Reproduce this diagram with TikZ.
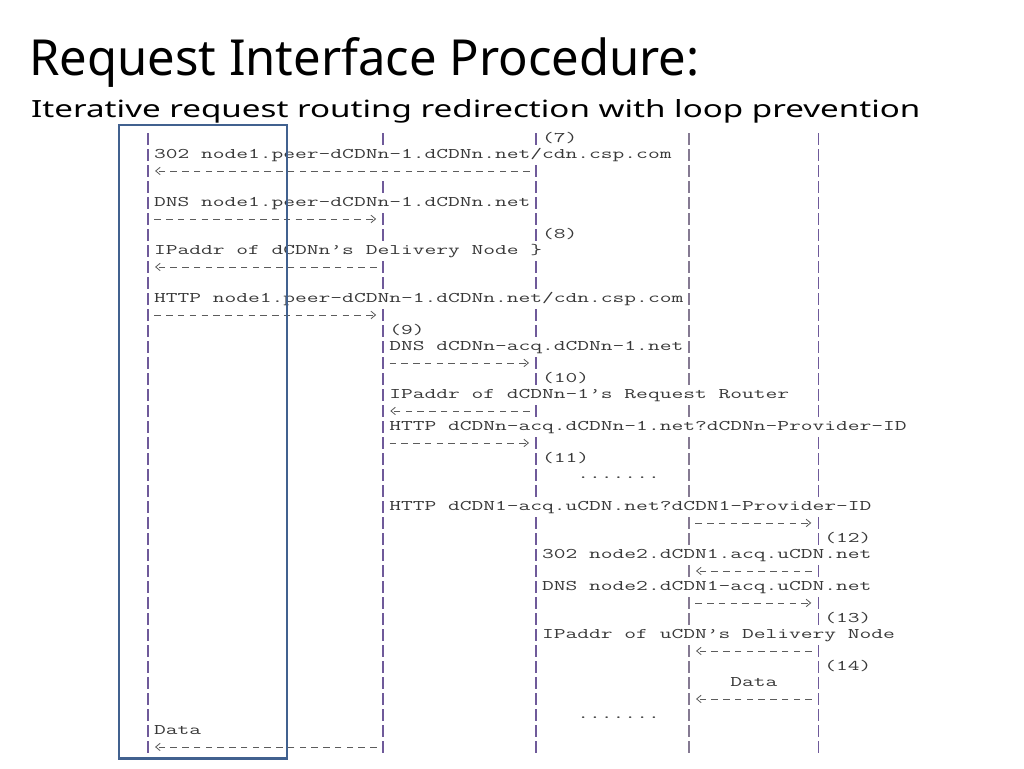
\documentclass[tikz,border=0pt]{standalone}
\usepackage{fontspec}
\setmainfont{Noto Sans}
\usetikzlibrary{arrows.meta}
\definecolor{lifeA}{HTML}{6F5A9A}
\definecolor{lifeB}{HTML}{857A92}
\definecolor{boxblue}{HTML}{41618F}
\definecolor{ink}{HTML}{383838}
\definecolor{dashc}{HTML}{5C5C5C}
\newlength\cwd
\newcommand\mytt[1]{{\fontsize{14.7pt}{16pt}\selectfont\ttfamily\setbox0\hbox{M}\cwd=\wd0\relax\pgfmathsetmacro\ttscale{11.76/\cwd}\scalebox{\ttscale}[1]{#1}}}
\begin{document}
\begin{tikzpicture}[x=1pt,y=1pt,
  lifeline/.style={line width=1.6pt, dash pattern=on 12pt off 4pt},
  mono/.style={anchor=base west, inner sep=0pt, fill=white, text=ink, text height=11pt, text depth=4pt},
  arr/.style={draw=dashc, line width=0.85pt, dash pattern=on 6.5pt off 5.26pt,
    -{Straight Barb[length=4.5pt,width=7.5pt]},
    preaction={draw=white, line width=15pt, solid, arrows=-}},
  heading/.style={anchor=base west, inner sep=0pt, text=black}]
\useasboundingbox (0,0) rectangle (1024,-768);
\fill[white] (0,0) rectangle (1024,-768);
\node[heading] (title) at (29,-75) {\resizebox{670pt}{38pt}{Request Interface Procedure:}};
\node[heading] (subtitle) at (31,-117) {\resizebox{889pt}{18pt}{Iterative request routing redirection with loop prevention}};
\begin{scope}[shift={(148pt,-126pt)}, x=11.76pt, y=-16pt]
\foreach \n/\c/\col in {1/0/lifeA,2/20/lifeA,3/33/lifeA,4/46/lifeB,5/57/lifeA}{
  \coordinate (T\n) at (\c,0.4375);
  \coordinate (B\n) at (\c,39.1875);
  \draw[lifeline,draw=\col] (T\n) -- (B\n);
}
\node[mono] (n1) at (33.5,1) {\mytt{(7)}};
\node[mono] (n2) at (0.5,2) {\mytt{302 node1.peer-dCDNn-1.dCDNn.net/cdn.csp.com}};
\node[mono] (n5) at (0.5,5) {\mytt{DNS node1.peer-dCDNn-1.dCDNn.net}};
\node[mono] (n7) at (33.5,7) {\mytt{(8)}};
\node[mono] (n8) at (0.5,8) {\mytt{IPaddr of dCDNn’s Delivery Node \}}};
\node[mono] (n11) at (0.5,11) {\mytt{HTTP node1.peer-dCDNn-1.dCDNn.net/cdn.csp.com}};
\node[mono] (n13) at (20.5,13) {\mytt{(9)}};
\node[mono] (n14) at (20.5,14) {\mytt{DNS dCDNn-acq.dCDNn-1.net}};
\node[mono] (n16) at (33.5,16) {\mytt{(10)}};
\node[mono] (n17) at (20.5,17) {\mytt{IPaddr of dCDNn-1’s Request Router}};
\node[mono] (n19) at (20.5,19) {\mytt{HTTP dCDNn-acq.dCDNn-1.net?dCDNn-Provider-ID}};
\node[mono] (n21) at (33.5,21) {\mytt{(11)}};
\node[mono] (n22) at (36.5,22) {\mytt{.......}};
\node[mono] (n24) at (20.5,24) {\mytt{HTTP dCDN1-acq.uCDN.net?dCDN1-Provider-ID}};
\node[mono] (n26) at (57.5,26) {\mytt{(12)}};
\node[mono] (n27) at (33.5,27) {\mytt{302 node2.dCDN1.acq.uCDN.net}};
\node[mono] (n29) at (33.5,29) {\mytt{DNS node2.dCDN1-acq.uCDN.net}};
\node[mono] (n31) at (57.5,31) {\mytt{(13)}};
\node[mono] (n32) at (33.5,32) {\mytt{IPaddr of uCDN’s Delivery Node}};
\node[mono] (n34) at (57.5,34) {\mytt{(14)}};
\node[mono] (n35) at (49.5,35) {\mytt{Data}};
\node[mono] (n37) at (36.5,37) {\mytt{.......}};
\node[mono] (n38) at (0.5,38) {\mytt{Data}};
\foreach \r/\a/\b in {3/33/0, 6/0/20, 9/20/0, 12/0/20, 15/20/33, 18/33/20, 20/20/33, 25/46/57, 28/57/46, 30/46/57, 33/57/46, 36/57/46, 39/20/0}{
  \pgfmathsetmacro\sg{ifthenelse(\b>\a,1,-1)}
  \coordinate (as\r) at ({\a+0.55*\sg},{\r-0.19});
  \coordinate (ae\r) at ({\b-0.6*\sg},{\r-0.19});
  \draw[arr] (as\r) -- (ae\r);
}
\end{scope}
\node[draw=boxblue, line width=2.7pt, inner sep=0pt, minimum width=168pt, minimum height=633.5pt, anchor=north west] (frame) at (117.5,-123.5) {};
\end{tikzpicture}
\end{document}
